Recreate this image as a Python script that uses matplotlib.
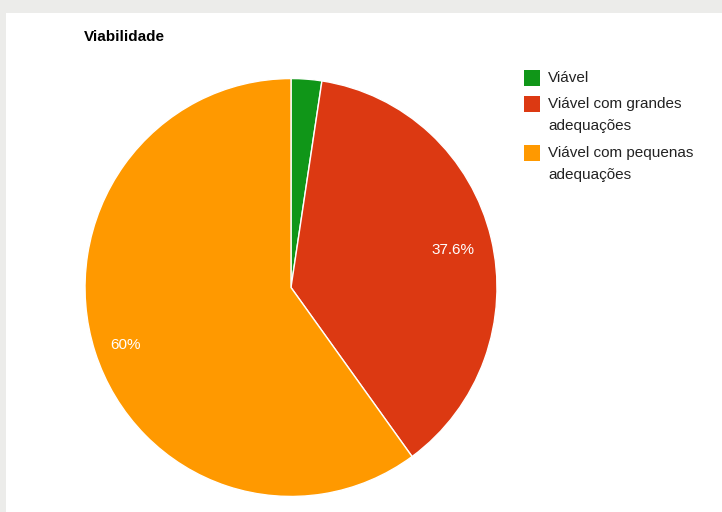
import matplotlib.pyplot as plt
from matplotlib.patches import Rectangle
import numpy as np

plt.rcParams['font.family'] = ['Liberation Sans', 'DejaVu Sans']

# slice data
categories = ['Viável', 'Viável com grandes adequações', 'Viável com pequenas adequações']
legend_lines = [['Viável'], ['Viável com grandes', 'adequações'], ['Viável com pequenas', 'adequações']]
shares = [2.4, 37.6, 60.0]
colors = ['#109618', '#dc3912', '#ff9900']

W, H = 722, 512
fig = plt.figure(figsize=(W / 100, H / 100), dpi=100)
fig.patch.set_facecolor('#ececea')

# white chart panel, kept under the axes
fig.patches.append(Rectangle((6 / W, 0), 1 - 6 / W, 1 - 13 / H,
                             transform=fig.transFigure, facecolor='white',
                             edgecolor='none', zorder=-10))

# pie is a touch taller than wide
cx, cy, rx, ry = 291, 287.5, 207, 210
ax = fig.add_axes([(cx - rx) / W, (H - cy - ry) / H, 2 * rx / W, 2 * ry / H])
ax.set_zorder(2)
ax.set_facecolor('none')


def pct_label(p):
    return f'{p:.1f}%'.replace('.0%', '%') if p > 5 else ''


wedges, texts, autotexts = ax.pie(
    shares, colors=colors, startangle=90, counterclock=False,
    autopct=pct_label, pctdistance=0.81,
    wedgeprops=dict(edgecolor='white', linewidth=1),
    textprops=dict(color='white', fontsize=11))
ax.set_xlim(-1.005, 1.005)
ax.set_ylim(-1.005, 1.005)
ax.set_aspect('auto')
ax.axis('off')

# push the big slice's label a little further out, and all a bit lower
label_dist = [0.81, 0.81, 0.845]
for w, t, d in zip(wedges, autotexts, label_dist):
    mid = np.deg2rad((w.theta1 + w.theta2) / 2)
    t.set_position((d * np.cos(mid), d * np.sin(mid) - 0.014))

fig.text(84 / W, 1 - 37 / H, 'Viabilidade', fontsize=11, fontweight='bold',
         va='center', ha='left', color='black')

# legend drawn by hand so the wrapped labels line up like the original
row_y = [78, 104, 153]
line_gap = 22
for lines, color, y in zip(legend_lines, colors, row_y):
    fig.patches.append(Rectangle((524 / W, 1 - (y + 8) / H), 16 / W, 16 / H,
                                 transform=fig.transFigure, facecolor=color,
                                 edgecolor='none', zorder=3))
    for k, txt in enumerate(lines):
        fig.text(548 / W, 1 - (y + k * line_gap) / H, txt, fontsize=11,
                 va='center', ha='left', color='#222222')

fig.savefig('out.png', dpi=100, facecolor=fig.get_facecolor())
